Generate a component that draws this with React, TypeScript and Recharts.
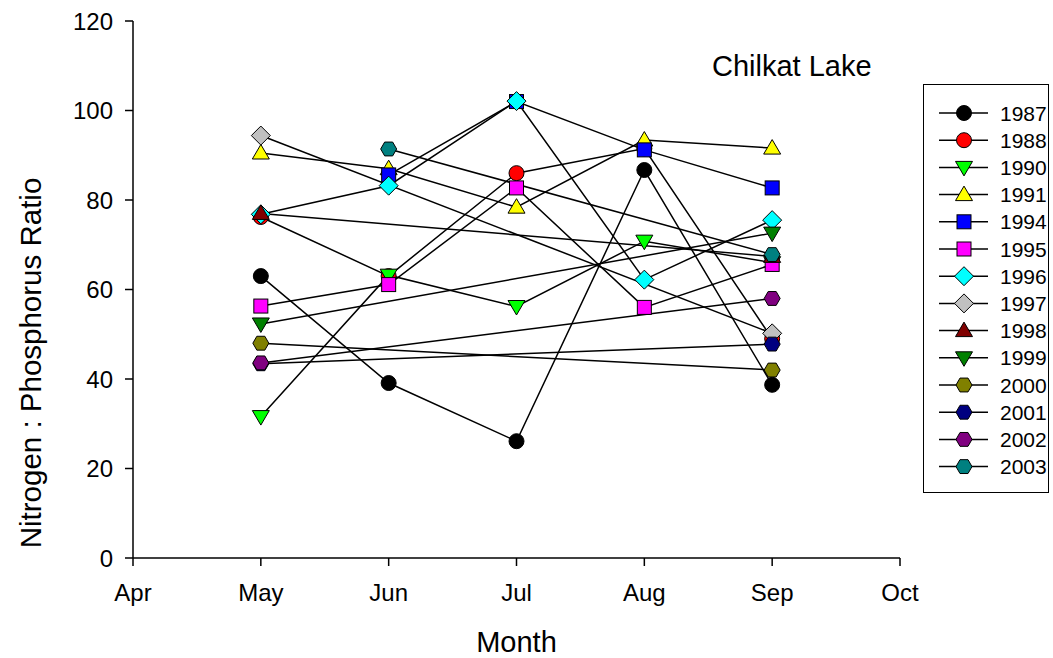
import React from 'react'
import { LineChart, Line, XAxis, YAxis, Label } from 'recharts'

// month numbers sampled each season, and the full axis range Apr..Oct
const months = [5, 6, 7, 8, 9]
const monthTicks = [4, 5, 6, 7, 8, 9, 10]
const monthNames = ['Apr', 'May', 'Jun', 'Jul', 'Aug', 'Sep', 'Oct']
const ratioTicks = [0, 20, 40, 60, 80, 100, 120]

const years = ['1987', '1988', '1990', '1991', '1994', '1995', '1996', '1997', '1998', '1999', '2000', '2001', '2002', '2003']

// N:P ratio by month (May..Sep), null where not sampled
const y1987 = [63, 39.1, 26.1, 86.7, 38.7]
const y1988 = [76.2, 63, 86, 91.5, 49]
const y1990 = [31.6, 63.2, 56.2, 70.8, 66]
const y1991 = [90.5, 87, 78.4, 93.4, 91.6]
const y1994 = [null, 85.6, 102, 91.2, 82.7]
const y1995 = [56.3, 61.1, 82.7, 56, 65.6]
const y1996 = [76.8, 83.2, 102.1, 62.2, 75.5]
const y1997 = [94.4, null, null, null, 50.2]
const y1998 = [77, null, null, null, 67.4]
const y1999 = [52.3, null, null, null, 72.6]
const y2000 = [48, null, null, null, 42]
const y2001 = [43.4, null, null, null, 47.8]
const y2002 = [43.6, null, null, null, 58]
const y2003 = [null, 91.4, null, null, 67.8]

const seriesValues = [y1987, y1988, y1990, y1991, y1994, y1995, y1996, y1997, y1998, y1999, y2000, y2001, y2002, y2003]

const markerShapes = ['circle', 'circle', 'down', 'up', 'square', 'square', 'diamond', 'diamond', 'up', 'down', 'hexagon', 'hexagon', 'hexagon', 'hexagon']
const markerFills = ['#000000', '#ff0000', '#00ff00', '#ffff00', '#0000ff', '#ff00ff', '#00ffff', '#c0c0c0', '#800000', '#008000', '#808000', '#000080', '#800080', '#008080']

const data = months.map((m, i) => {
  const row: Record<string, number | null> = { month: m }
  years.forEach((yr, j) => {
    row[yr] = seriesValues[j][i]
  })
  return row
})

const FONT = 'Arial, "Liberation Sans", sans-serif'

const Marker = ({ x, y, shape, fill }: { x: number; y: number; shape: string; fill: string }) => {
  const st = { fill, stroke: '#000', strokeWidth: 1 }
  switch (shape) {
    case 'circle':
      return <circle cx={x} cy={y} r={7.5} {...st} />
    case 'square':
      return <rect x={x - 7} y={y - 7} width={14} height={14} {...st} />
    case 'up':
      return <polygon points={`${x},${y - 8.5} ${x + 8.5},${y + 6} ${x - 8.5},${y + 6}`} {...st} />
    case 'down':
      return <polygon points={`${x - 8.5},${y - 6} ${x + 8.5},${y - 6} ${x},${y + 8.5}`} {...st} />
    case 'diamond':
      return <polygon points={`${x},${y - 9.5} ${x + 9.5},${y} ${x},${y + 9.5} ${x - 9.5},${y}`} {...st} />
    default: {
      const pts = [0, 60, 120, 180, 240, 300]
        .map((a) => `${x + 8 * Math.cos((a * Math.PI) / 180)},${y + 8 * Math.sin((a * Math.PI) / 180)}`)
        .join(' ')
      return <polygon points={pts} {...st} />
    }
  }
}

const makeDot = (idx: number) => (props: any) => {
  const { cx, cy, index, value } = props
  if (cx == null || cy == null || value == null) return <g key={`e-${idx}-${index}`} />
  return (
    <g key={`d-${idx}-${index}`}>
      <Marker x={cx} y={cy} shape={markerShapes[idx]} fill={markerFills[idx]} />
    </g>
  )
}

const YTitle = () => (
  <text
    x={30}
    y={363}
    transform="rotate(-90, 30, 363)"
    textAnchor="middle"
    dominantBaseline="central"
    fontSize={29.5}
    fontFamily={FONT}
    fill="#000"
  >
    Nitrogen : Phosphorus Ratio
  </text>
)

const LegendBox = () => (
  <div
    style={{
      position: 'absolute',
      left: 923,
      top: 84,
      width: 126,
      height: 409,
      border: '1.5px solid #000',
      boxSizing: 'border-box',
      background: '#fff',
    }}
  >
    <svg width={124} height={406}>
      {years.map((yr, i) => {
        const cy = 28 + i * 27.2
        return (
          <g key={yr}>
            <line x1={15} x2={64} y1={cy} y2={cy} stroke="#000" strokeWidth={1.5} />
            <Marker x={40} y={cy} shape={markerShapes[i]} fill={markerFills[i]} />
            <text x={76} y={cy} dominantBaseline="central" fontSize={21} fontFamily={FONT} fill="#000">
              {yr}
            </text>
          </g>
        )
      })}
    </svg>
  </div>
)

const App = () => {
  return (
    <div style={{ position: 'absolute', left: 0, top: 0, width: 1053, height: 658, background: '#fff' }}>
      <LineChart width={1053} height={658} data={data} margin={{ top: 21, right: 153, bottom: 0, left: 73 }}>
        <XAxis
          dataKey="month"
          type="number"
          domain={[4, 10]}
          ticks={monthTicks}
          tickFormatter={(v: number) => monthNames[v - 4]}
          height={100}
          axisLine={{ stroke: '#000', strokeWidth: 1.5 }}
          tickLine={{ stroke: '#000', strokeWidth: 1.5 }}
          tickSize={8}
          tickMargin={18}
          tick={{ fill: '#000', fontSize: 24, fontFamily: FONT }}
        >
          <Label value="Month" position="insideBottom" offset={6} fontSize={29} fontFamily={FONT} fill="#000" />
        </XAxis>
        <YAxis
          type="number"
          domain={[0, 120]}
          ticks={ratioTicks}
          width={60}
          axisLine={{ stroke: '#000', strokeWidth: 1.5 }}
          tickLine={{ stroke: '#000', strokeWidth: 1.5 }}
          tickSize={8}
          tickMargin={12}
          tick={{ fill: '#000', fontSize: 24, fontFamily: FONT }}
        >
          <Label content={<YTitle />} />
        </YAxis>
        {years.map((yr, i) => (
          <Line
            key={yr}
            dataKey={yr}
            stroke="#000"
            strokeWidth={1.5}
            connectNulls
            dot={makeDot(i)}
            activeDot={false}
            isAnimationActive={false}
          />
        ))}
      </LineChart>
      <div
        style={{
          position: 'absolute',
          left: 712,
          top: 50,
          fontSize: 29,
          fontFamily: FONT,
          color: '#000',
          whiteSpace: 'nowrap',
        }}
      >
        Chilkat Lake
      </div>
      <LegendBox />
    </div>
  )
}

export default App
